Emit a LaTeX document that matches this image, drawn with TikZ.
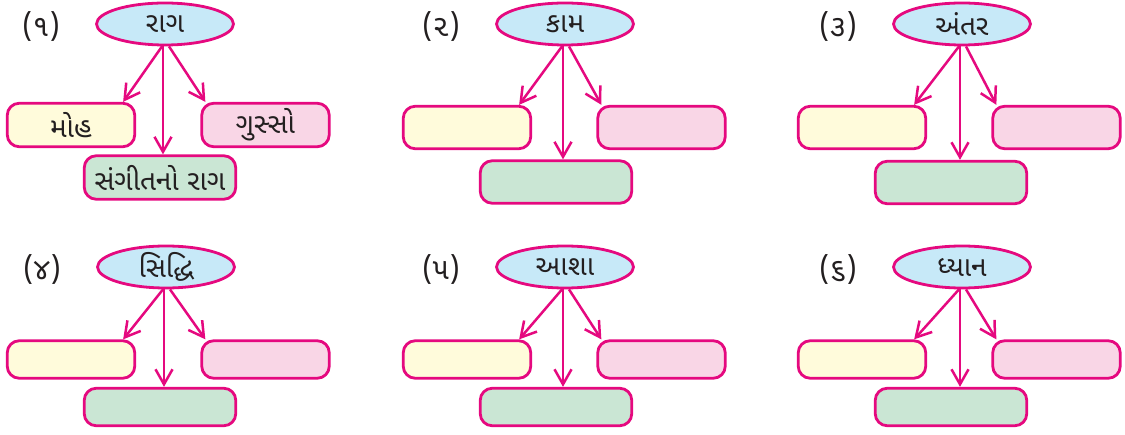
\documentclass[tikz,border=0pt]{standalone}
\usepackage{fontspec}
\newfontfamily\guj[Script=Gujarati]{Noto Sans Gujarati UI}
\usetikzlibrary{arrows.meta,calc,shapes.geometric}
\definecolor{mag}{HTML}{E5097F}
\definecolor{eblue}{HTML}{C7E9F8}
\definecolor{byel}{HTML}{FFFBDB}
\definecolor{bpink}{HTML}{F9D6E6}
\definecolor{bgreen}{HTML}{CAE6D4}
\definecolor{ink}{HTML}{231F20}
\tikzset{
  gtext/.style={font=\guj\fontsize{28}{28}\selectfont, text=ink},
  titleell/.style={ellipse, draw=mag, line width=2.8pt, fill=eblue,
    minimum width=137pt, minimum height=42pt, inner sep=0pt, gtext},
  box/.style={rectangle, rounded corners=12pt, draw=mag, line width=2.8pt,
    minimum width=127.5pt, inner sep=0pt, gtext},
  ybox/.style={box, fill=byel},
  pbox/.style={box, fill=bpink},
  gbox/.style={box, fill=bgreen, minimum width=151.5pt},
  num/.style={font=\guj\fontsize{30}{30}\selectfont, text=ink},
  arr/.style={draw=mag, line width=2.5pt, -{Straight Barb[length=15pt,width=17pt]}}
}
\def\pLtext{}\def\pRtext{}\def\pBtext{}
% #1 id, #2 ex, #3 ey, #4 box x offset, #5 side y, #6 bottom y, #7 box h, #8 label, #9 word
\newcommand\drawpanel[9]{%
  \node[num] (#1n) at (#2-124,#3+2) {(#8)};
  \node[titleell] (#1e) at (#2,#3) {#9};
  \node[ybox, minimum height=#7] (#1l) at (#4+71,#5) {\pLtext};
  \node[pbox, minimum height=#7] (#1r) at (#4+265.5,#5) {\pRtext};
  \node[gbox, minimum height=#7] (#1b) at (#4+160,#6) {\pBtext};
  \draw[arr] ($(#1e.south)+(-3,0)$) -- ($(#1l.north east)+(-13,0)$);
  \draw[arr] ($(#1e.south)+(-2,0)$) coordinate (#1m) -- (#1m |- #1b.north);
  \draw[arr] ($(#1e.south)+(4,0)$) -- ($(#1r.north west)+(5,0)$);
}
\begin{document}
\begin{tikzpicture}[x=1pt,y=-1pt]
\useasboundingbox (0,0) rectangle (1125,435);
\def\pLtext{મોહ}\def\pRtext{ગુસ્સો}\def\pBtext{સંગીતનો રાગ}
\drawpanel{a}{165}{24}{0}{125}{177.5}{43.5}{૧}{રાગ}
\def\pLtext{}\def\pRtext{}\def\pBtext{}
\drawpanel{b}{565}{24}{396}{127.5}{182}{42.5}{૨}{કામ}
\drawpanel{c}{962}{24}{791}{127.5}{182.5}{42.5}{૩}{અંતર}
\drawpanel{d}{166}{267}{0}{359.5}{407}{37.5}{૪}{સિદ્ધિ}
\drawpanel{e}{565}{267}{396}{359.5}{407}{37.5}{૫}{આશા}
\drawpanel{f}{962}{267}{791}{359.5}{407}{37.5}{૬}{ધ્યાન}
\end{tikzpicture}
\end{document}
